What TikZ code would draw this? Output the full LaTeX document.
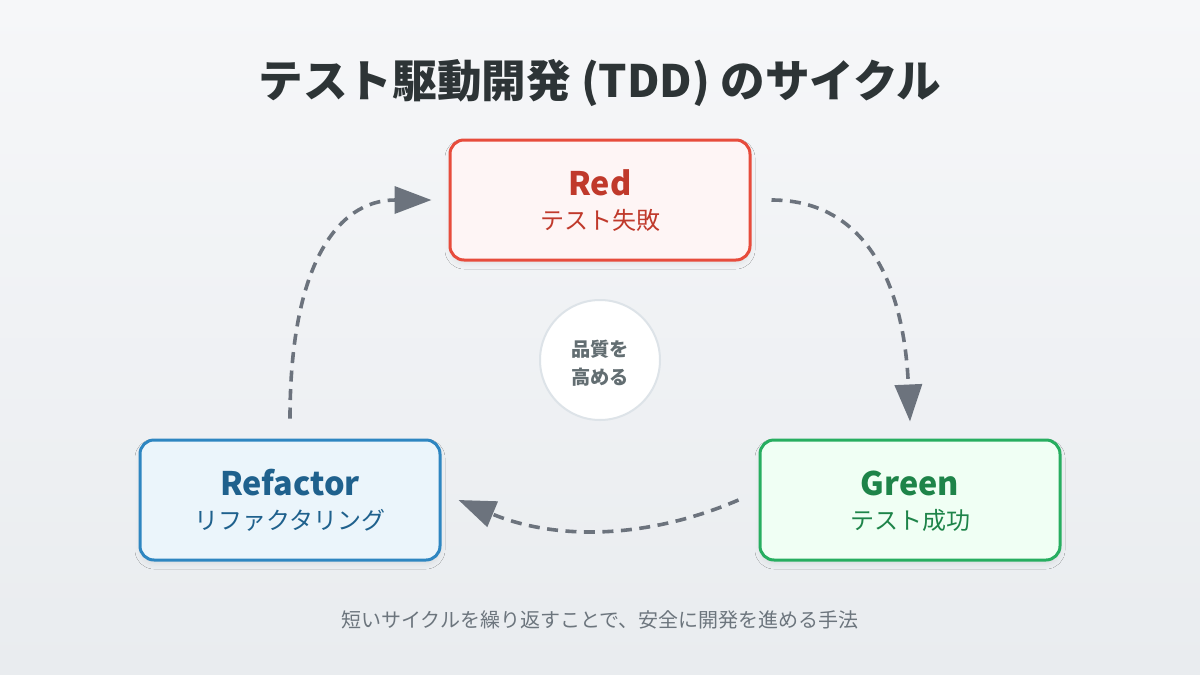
\documentclass[tikz,border=0pt]{standalone}
\usepackage{fontspec}
\setmainfont{Noto Sans CJK JP}
\usetikzlibrary{arrows.meta,shadows.blur}
\definecolor{bgtop}{HTML}{F6F7F9}
\definecolor{bgbot}{HTML}{E9ECEF}
\definecolor{titlec}{HTML}{2D3436}
\definecolor{redline}{HTML}{E74C3C}
\definecolor{redfill}{HTML}{FEF5F5}
\definecolor{redtext}{HTML}{C0392B}
\definecolor{greenline}{HTML}{27AE60}
\definecolor{greenfill}{HTML}{F0FFF4}
\definecolor{greentext}{HTML}{1E8449}
\definecolor{blueline}{HTML}{2E86C1}
\definecolor{bluefill}{HTML}{EBF5FB}
\definecolor{bluetext}{HTML}{1F618D}
\definecolor{arrowc}{HTML}{6C737D}
\definecolor{circline}{HTML}{DDE3E8}
\definecolor{circtext}{HTML}{636E72}
\definecolor{foottext}{HTML}{6C757D}
\begin{document}
\begin{tikzpicture}[x=1pt,y=-1pt,
  stagebox/.style={draw, line width=3pt, rounded corners=14pt, minimum width=300pt, minimum height=120pt, inner sep=0pt,
    blur shadow={shadow xshift=0pt, shadow yshift=-4pt, shadow blur radius=5pt, shadow opacity=6}},
  headtext/.style={anchor=base, font=\fontsize{32.4}{40}\selectfont\bfseries},
  subtext/.style={anchor=base, font=\fontsize{24}{28}\selectfont},
  flow/.style={draw=arrowc, line width=3.6pt, dash pattern=on 11pt off 7.5pt, -{Triangle[length=37pt,width=27pt]}}]
\useasboundingbox (0,0) rectangle (1200,675);
\shade[top color=bgtop, bottom color=bgbot] (0,0) rectangle (1200,675);
% title
\node[anchor=base, text=titlec, font=\fontsize{44.6}{50}\selectfont\bfseries] (title) at (600,97) {テスト駆動開発 (TDD) のサイクル};
% boxes
\node[stagebox, draw=redline, fill=redfill] (red) at (600,200) {};
\node[stagebox, draw=greenline, fill=greenfill] (green) at (910,500) {};
\node[stagebox, draw=blueline, fill=bluefill] (refactor) at (290,500) {};
\node[headtext, text=redtext] (redh) at (600,195) {Red};
\node[subtext, text=redtext] (reds) at (600,229) {テスト失敗};
\node[headtext, text=greentext] (greenh) at (910,495) {Green};
\node[subtext, text=greentext] (greens) at (910,529) {テスト成功};
\node[headtext, text=bluetext] (refh) at (290,495) {Refactor};
\node[subtext, text=bluetext] (refs) at (290,529) {リファクタリング};
% center circle
\node[circle, minimum size=120pt, inner sep=0pt, fill=white, draw=circline, line width=2pt] (core) at (600,360) {};
\node[anchor=base, text=circtext, font=\fontsize{19.2}{22}\selectfont\bfseries] (core1) at (600,356) {品質を};
\node[anchor=base, text=circtext, font=\fontsize{19.2}{22}\selectfont\bfseries] (core2) at (600,384) {高める};
% arrows
\draw[flow] ([xshift=20pt]red.east) .. controls +(86.67,0) and +(-6.67,-150) .. ([yshift=17pt]green.north);
\draw[flow] ([xshift=-20pt]green.west) .. controls +(-93.33,40) and +(96,40) .. ([xshift=17pt]refactor.east);
\draw[flow] ([yshift=20pt]refactor.north) .. controls +(0,-150) and +(-96,0) .. ([xshift=-17pt]red.west);
% footer
\node[anchor=base, text=foottext, font=\fontsize{20}{24}\selectfont] (foot) at (600,627) {短いサイクルを繰り返すことで、安全に開発を進める手法};
\end{tikzpicture}
\end{document}
